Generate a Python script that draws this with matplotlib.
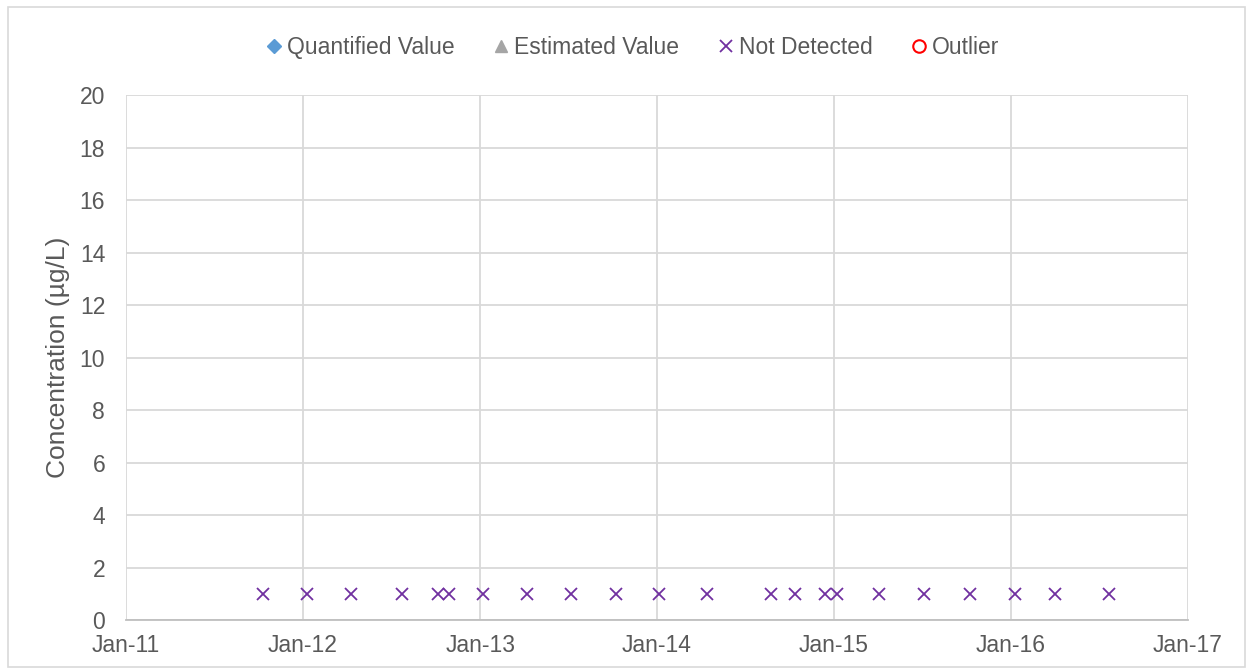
import numpy as np
import matplotlib.pyplot as plt
import matplotlib.dates as mdates
from matplotlib.patches import Rectangle
from datetime import datetime

plt.rcParams['font.family'] = ['Liberation Sans', 'DejaVu Sans']

# Not detected samples (reporting limit plotted at 1 ug/L)
nd_dates = ["2011-10-10", "2012-01-09", "2012-04-09", "2012-07-24", "2012-10-06",
            "2012-10-29", "2013-01-07", "2013-04-08", "2013-07-07", "2013-10-08",
            "2014-01-05", "2014-04-14", "2014-08-24", "2014-10-13", "2014-12-14",
            "2015-01-07", "2015-04-04", "2015-07-06", "2015-10-09", "2016-01-10",
            "2016-04-01", "2016-07-22"]
nd_values = [1] * len(nd_dates)
nd_dates = [datetime.strptime(d, "%Y-%m-%d") for d in nd_dates]

text_col = "#595959"
grid_col = "#d9d9d9"

fig = plt.figure(figsize=(12.53, 6.71), dpi=100)
fig.patches.append(Rectangle((0.006, 0.006), 0.988, 0.984, transform=fig.transFigure,
                             fill=False, edgecolor=grid_col, linewidth=1.2))
ax = fig.add_axes([0.1006, 0.076, 0.8474, 0.7824])

# empty series, kept for the legend
ax.plot([], [], linestyle='none', marker='D', color='#5b9bd5', markersize=7, label='Quantified Value')
ax.plot([], [], linestyle='none', marker='^', color='#a5a5a5', markersize=8, label='Estimated Value')
ax.plot(nd_dates, nd_values, linestyle='none', marker='x', color='#7030a0',
        markersize=9, markeredgewidth=1.3, label='Not Detected')
ax.plot([], [], linestyle='none', marker='o', markerfacecolor='none', markeredgecolor='#ff0000',
        markersize=9, markeredgewidth=1.5, label='Outlier')

ax.set_xlim(datetime(2011, 1, 1), datetime(2017, 1, 1))
ax.set_ylim(0, 20)
ax.set_yticks(np.arange(0, 21, 2))
ax.xaxis.set_major_locator(mdates.YearLocator())
ax.xaxis.set_major_formatter(mdates.DateFormatter('%b-%y'))

ax.grid(True, color=grid_col, linewidth=1.3)
ax.set_axisbelow(True)
for s in ['top', 'right', 'left']:
    ax.spines[s].set_visible(False)
ax.spines['bottom'].set_color('#bfbfbf')
ax.spines['bottom'].set_linewidth(1.3)
ax.tick_params(length=0, labelsize=16.5, colors=text_col)
ax.tick_params(axis='y', pad=15)
ax.tick_params(axis='x', pad=10)

ax.set_ylabel("Concentration (µg/L)", fontsize=19, color=text_col, labelpad=7)

leg = ax.legend(loc='lower center', bbox_to_anchor=(0.475, 1.03), ncol=4, frameon=False,
                fontsize=16.5, handletextpad=0.0, columnspacing=1.5, handlelength=1.1)
for t in leg.get_texts():
    t.set_color(text_col)

plt.savefig("out.png", dpi=100)
plt.close()
